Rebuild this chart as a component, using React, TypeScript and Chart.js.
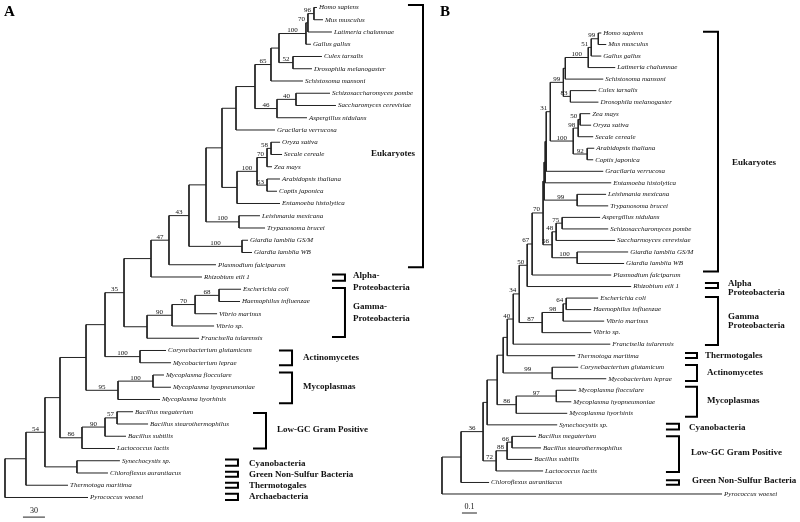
import React, { useEffect, useRef } from "react";
import { Chart, registerables } from "chart.js";
Chart.register(...registerables);

// ---------- DATA ----------
const LEAVES_A = [
  "Homo sapiens", "Mus musculus", "Latimeria chalumnae", "Gallus gallus", "Culex tarsalis",
  "Drosophila melanogaster", "Schistosoma mansoni", "Schizosaccharomyces pombe", "Saccharomyces cerevisiae",
  "Aspergillus nidulans", "Gracilaria verrucosa", "Oryza sativa", "Secale cereale", "Zea mays",
  "Arabidopsis thaliana", "Coptis japonica", "Entamoeba histolytica", "Leishmania mexicana",
  "Trypanosoma brucei", "Giardia lamblia GS/M", "Giardia lamblia WB", "Plasmodium falciparum",
  "Rhizobium etli 1", "Escherichia coli", "Haemophilus influenzae", "Vibrio marinus", "Vibrio sp.",
  "Francisella tularensis", "Corynebacterium glutamicum", "Mycobacterium leprae", "Mycoplasma flocculare",
  "Mycoplasma hyopneumoniae", "Mycoplasma hyorhinis", "Bacillus megaterium", "Bacillus stearothermophilus",
  "Bacillus subtilis", "Lactococcus lactis", "Synechocystis sp.", "Chloroflexus aurantiacus",
  "Thermotoga maritima", "Pyrococcus woesei",
];

const LEAVES_B = [
  "Homo sapiens", "Mus musculus", "Gallus gallus", "Latimeria chalumnae", "Schistosoma mansoni",
  "Culex tarsalis", "Drosophila melanogaster", "Zea mays", "Oryza sativa", "Secale cereale",
  "Arabidopsis thaliana", "Coptis japonica", "Gracilaria verrucosa", "Entamoeba histolytica",
  "Leishmania mexicana", "Trypanosoma brucei", "Aspergillus nidulans", "Schizosaccharomyces pombe",
  "Saccharmoyces cerevisiae", "Giardia lamblia GS/M", "Giardia lamblia WB", "Plasmodium falciparum",
  "Rhizobium etli 1", "Escherichia coli", "Haemophilus influenzae", "Vibrio marinus", "Vibrio sp.",
  "Francisella tularensis", "Thermotoga maritima", "Corynebacterium glutamicum", "Mycobacterium leprae",
  "Mycoplasma flocculare", "Mycoplasma hyopneumoniae", "Mycoplasma hyorhinis", "Synechocystis sp.",
  "Bacillus megaterium", "Bacillus stearothermophilus", "Bacillus subtilis", "Lactococcus lactis",
  "Chloroflexus aurantiacus", "Pyrococcus woesei",
];

// Tree A (Newick, leaf = index into LEAVES_A, internal label = bootstrap)
const A_VERT = "(((0:4.1,1:12.3)96:8.2,2:32.7)70:2.7,3:6.8)100:36.8";
const A_ANIMALS = `((${A_VERT},(4:39.5,5:25.9)52:19.1):10.9,6:43.6)65:21.8`;
const A_FUNGI = "((7:46.4,8:54.5)40:25.9,9:40.9)46:30";
const A_N236 = `((${A_ANIMALS},${A_FUNGI}):25.9,10:53.2):19.1`;
const A_PLANTS = "((((11:12.3,12:15)58:5.5,13:6.8)70:13.6,(14:17.7,15:13.6)53:13.6)100:27.3,16:58.6):20.5";
const A_EUK = `(((${A_N236},${A_PLANTS}):21.8,(17:28.6,18:35.5)100:45):23.2,(19:8.2,20:13.6)100:72.3)43:27.3`;
const A_N151 = `((${A_EUK},21:64.1)47:24.5,22:69.5):36.8`;
const A_GAMMA = "((((23:30,24:28.6)68:32.7,25:30)70:31.4,26:57.3)90:34.1,27:70.9):31.4";
const A_N86 = `(((${A_N151},${A_GAMMA})35:25.9,(28:35.5,29:42.3)100:47.7):25.9,((30:15,31:24.5)100:47.7,32:57.3)95:43.6):35.5`;
const A_LOWGC = "(((33:21.8,34:42.3)57:16.4,35:28.6)90:31.4,36:45)86:30";
const NEWICK_A = `((((${A_N86},${A_LOWGC}):20.5,(37:58.6,38:42.3):43.6)54:25.9,39:57.3):28.6,40:113.2);`;

// Tree B
const B_VERT = "(((0:0.02,1:0.053)99:0.047,2:0.067)51:0.02,3:0.18)100:0.153";
const B_ANIMALS = `((${B_VERT},4:0.253):0.013,(5:0.173,6:0.187)83:0.047)99:0.087`;
const B_PLANTS = "(((7:0.067,8:0.073)50:0.013,9:0.1)98:0.033,(10:0.047,11:0.04)92:0.093)100:0.153";
const B_N544 = `((((${B_ANIMALS},${B_PLANTS})31:0.027,12:0.38):0.007,13:0.44):0.007,(14:0.193,15:0.207)99:0.22):0.007`;
const B_FUNGI = "(((16:0.253,17:0.307)75:0.04,18:0.393)48:0.027,(19:0.34,20:0.313)100:0.167)56:0.06";
const B_N527 = `(((${B_N544},${B_FUNGI})70:0.073,21:0.527)67:0.033,22:0.693)50:0.053`;
const B_GAMMA = "(((23:0.213,24:0.167)64:0.02,25:0.273)98:0.14,26:0.327)87:0.153";
const B_N503 = `((((${B_N527},${B_GAMMA})34:0.04,27:0.647)40:0.04,28:0.453):0.027,(29:0.173,30:0.36)99:0.327):0.04`;
const B_N487 = `((${B_N503},((31:0.133,32:0.1)97:0.267,33:0.34)86:0.127):0.067,34:0.467):0.027`;
const B_LOWGC = "(((35:0.16,36:0.193)66:0.033,37:0.167)88:0.073,38:0.313)72:0.087";
const NEWICK_B = `(((${B_N487},${B_LOWGC})36:0.147,39:0.187):0.127,40:1.867);`;

const SCALE_BAR_A = 30;
const SCALE_BAR_B = 0.1;

const GROUPS_A = [
  ["Eukaryotes"], ["Alpha-", "Proteobacteria"], ["Gamma-", "Proteobacteria"], ["Actinomycetes"],
  ["Mycoplasmas"], ["Low-GC Gram Positive"], ["Cyanobacteria"], ["Green Non-Sulfur Bacteria"],
  ["Thermotogales"], ["Archaebacteria"],
];
const GROUPS_B = [
  ["Eukaryotes"], ["Alpha", "Proteobacteria"], ["Gamma", "Proteobacteria"], ["Thermotogales"],
  ["Actinomycetes"], ["Mycoplasmas"], ["Cyanobacteria"], ["Low-GC Gram Positive"],
  ["Green Non-Sulfur Bacteria"],
];

// ---------- LAYOUT (bracket geometry in axis units: top, bottom, vertical x, arm x, text x, text y, align) ----------
const BRACKETS_A: [number, number, number, number, number, number, string][] = [
  [-0.2, 21.2, 570.0, 549.5, 559.1, 11.96, "right"],
  [21.8, 22.3, 463.6, 445.9, 474.5, 21.92, "left"],
  [22.9, 26.9, 463.6, 445.9, 474.5, 24.45, "left"],
  [28.0, 29.2, 391.4, 373.6, 406.4, 28.61, "left"],
  [29.8, 32.3, 391.4, 373.6, 406.4, 30.98, "left"],
  [33.1, 36.0, 355.9, 338.2, 370.9, 34.49, "left"],
  [36.9, 37.4, 317.7, 300.0, 332.7, 37.2, "left"],
  [37.9, 38.3, 317.7, 300.0, 332.7, 38.16, "left"],
  [38.8, 39.2, 317.7, 300.0, 332.7, 39.06, "left"],
  [39.7, 40.2, 317.7, 300.0, 332.7, 39.96, "left"],
];
const BRACKETS_B: [number, number, number, number, number, number, string][] = [
  [-0.1, 20.7, 1.84, 1.74, 1.933, 11.28, "left"],
  [21.69, 22.13, 1.84, 1.753, 1.907, 21.78, "left"],
  [22.9, 27.07, 1.84, 1.753, 1.907, 24.64, "left"],
  [27.77, 28.2, 1.7, 1.62, 1.753, 28.03, "left"],
  [28.8, 30.2, 1.7, 1.62, 1.767, 29.5, "left"],
  [30.7, 33.3, 1.7, 1.62, 1.767, 31.93, "left"],
  [33.9, 34.4, 1.58, 1.493, 1.647, 34.27, "left"],
  [35.0, 38.1, 1.58, 1.493, 1.66, 36.44, "left"],
  [38.8, 39.2, 1.58, 1.493, 1.667, 38.87, "left"],
];

type TNode = {
  children: TNode[]; len: number; support: string; leaf: number;
  x: number; y: number; parent: TNode | null;
};

function parseNewick(src: string): TNode {
  const s = src.replace(/\s+/g, "");
  let i = 0;
  const node = (): TNode => {
    const n: TNode = { children: [], len: 0, support: "", leaf: -1, x: 0, y: 0, parent: null };
    if (s[i] === "(") {
      i++;
      n.children.push(node());
      while (s[i] === ",") { i++; n.children.push(node()); }
      i++;
    }
    let lab = "";
    while (i < s.length && !":,();".includes(s[i])) lab += s[i++];
    if (n.children.length) n.support = lab; else n.leaf = parseInt(lab, 10);
    if (s[i] === ":") {
      i++;
      let num = "";
      while (i < s.length && !",();".includes(s[i])) num += s[i++];
      n.len = parseFloat(num);
    }
    n.children.forEach((c) => (c.parent = n));
    return n;
  };
  return node();
}

function layoutTree(n: TNode, x0: number) {
  n.x = x0 + n.len;
  if (!n.children.length) { n.y = n.leaf; return; }
  n.children.forEach((c) => layoutTree(c, n.x));
  n.y = (n.children[0].y + n.children[n.children.length - 1].y) / 2;
}

function allNodes(n: TNode, out: TNode[] = []): TNode[] {
  out.push(n);
  n.children.forEach((c) => allNodes(c, out));
  return out;
}

function treeSegments(root: TNode) {
  const pts: { x: number; y: number }[] = [];
  allNodes(root).forEach((n) => {
    if (n.parent) pts.push({ x: n.parent.x, y: n.y }, { x: n.x, y: n.y }, { x: NaN, y: NaN });
    if (n.children.length) {
      pts.push({ x: n.x, y: n.children[0].y }, { x: n.x, y: n.children[n.children.length - 1].y }, { x: NaN, y: NaN });
    }
  });
  return pts;
}

const LEAF_FONT = 'italic 7px "Liberation Serif"';
const BOOT_FONT = '7px "Liberation Serif"';
const GROUP_FONT = 'bold 9px "Liberation Serif"';

export default function App() {
  const ref = useRef<HTMLCanvasElement>(null);
  useEffect(() => {
    const treeA = parseNewick(NEWICK_A);
    layoutTree(treeA, 0);
    const treeB = parseNewick(NEWICK_B);
    layoutTree(treeB, 0);

    const bracketPts = (b: [number, number, number, number, number, number, string]) => [
      { x: b[3], y: b[0] }, { x: b[2], y: b[0] }, { x: b[2], y: b[1] }, { x: b[3], y: b[1] },
    ];
    const lineDs = (data: any[], xid: string, yid: string, width: number, color: string) => ({
      data, xAxisID: xid, yAxisID: yid, borderColor: color, borderWidth: width,
      pointRadius: 0, fill: false, tension: 0, spanGaps: false, borderJoinStyle: "miter" as const,
    });

    const datasets: any[] = [
      lineDs(treeSegments(treeA), "xa", "ya", 1, "#222"),
      lineDs(treeSegments(treeB), "xb", "yb", 1, "#222"),
      ...BRACKETS_A.map((b) => lineDs(bracketPts(b), "xa", "ya", 2, "#000")),
      ...BRACKETS_B.map((b) => lineDs(bracketPts(b), "xb", "yb", 2, "#000")),
      lineDs([{ x: 24.5, y: 41.6 }, { x: 24.5 + SCALE_BAR_A, y: 41.6 }], "xa", "ya", 1, "#222"),
      lineDs([{ x: 0.133, y: 41.65 }, { x: 0.133 + SCALE_BAR_B, y: 41.65 }], "xb", "yb", 1, "#222"),
    ];

    const labelPlugin = {
      id: "treeLabels",
      afterDatasetsDraw(chart: any) {
        const ctx = chart.ctx as CanvasRenderingContext2D;
        const panels = [
          { tree: treeA, leaves: LEAVES_A, groups: GROUPS_A, br: BRACKETS_A, xs: chart.scales.xa, ys: chart.scales.ya, lh: 11.5,
            bar: { x: 24.5, y: 41.6, v: SCALE_BAR_A } },
          { tree: treeB, leaves: LEAVES_B, groups: GROUPS_B, br: BRACKETS_B, xs: chart.scales.xb, ys: chart.scales.yb, lh: 9,
            bar: { x: 0.133, y: 41.65, v: SCALE_BAR_B } },
        ];
        ctx.save();
        ctx.fillStyle = "#111";
        panels.forEach((p) => {
          const nodes = allNodes(p.tree);
          // leaf names
          ctx.font = LEAF_FONT;
          ctx.textAlign = "left";
          ctx.textBaseline = "middle";
          nodes.filter((n) => !n.children.length).forEach((n) => {
            ctx.fillText(p.leaves[n.leaf], p.xs.getPixelForValue(n.x) + 2, p.ys.getPixelForValue(n.y));
          });
          // bootstrap values
          ctx.font = BOOT_FONT;
          ctx.textAlign = "center";
          ctx.textBaseline = "alphabetic";
          nodes.filter((n) => n.children.length && n.support && n.parent).forEach((n) => {
            const w = ctx.measureText(n.support).width;
            const r = p.xs.getPixelForValue(n.x);
            const l = p.xs.getPixelForValue(n.parent!.x);
            const cx = Math.min((l + r) / 2, r - 3 - w / 2);
            ctx.fillText(n.support, cx, p.ys.getPixelForValue(n.y) - 1.5);
          });
          // group names
          ctx.font = GROUP_FONT;
          ctx.textBaseline = "middle";
          p.br.forEach((b, k) => {
            ctx.textAlign = b[6] === "right" ? "right" : "left";
            const tx = p.xs.getPixelForValue(b[4]);
            const ty = p.ys.getPixelForValue(b[5]);
            p.groups[k].forEach((line, j) => ctx.fillText(line, tx, ty + j * p.lh));
          });
          // scale bar label
          ctx.font = '8px "Liberation Serif"';
          ctx.textAlign = "center";
          ctx.textBaseline = "bottom";
          ctx.fillText(String(p.bar.v), p.xs.getPixelForValue(p.bar.x + p.bar.v / 2), p.ys.getPixelForValue(p.bar.y) - 2);
        });
        // panel letters
        ctx.font = 'bold 15px "Liberation Serif"';
        ctx.textAlign = "left";
        ctx.textBaseline = "alphabetic";
        ctx.fillStyle = "#000";
        ctx.fillText("A", 4, 16);
        ctx.fillText("B", 440, 16);
        ctx.restore();
      },
    };

    const chart = new Chart(ref.current!, {
      type: "line",
      data: { datasets },
      options: {
        responsive: false,
        animation: false,
        devicePixelRatio: 1,
        events: [],
        layout: { padding: 0 },
        plugins: { legend: { display: false }, tooltip: { enabled: false } },
        scales: {
          xa: { type: "linear", display: false, bounds: "data", min: -6.818, max: 1084.09 },
          ya: { type: "linear", display: false, bounds: "data", reverse: true, min: -0.6122, max: 42.0 },
          xb: { type: "linear", display: false, bounds: "data", min: -2.9467, max: 2.3867 },
          yb: { type: "linear", display: false, bounds: "data", reverse: true, min: -2.8633, max: 42.43 },
        },
      } as any,
      plugins: [labelPlugin],
    });
    return () => chart.destroy();
  }, []);

  return (
    <div style={{ position: "absolute", left: 0, top: 0, width: 800, height: 522, background: "#fff" }}>
      <canvas ref={ref} width={800} height={522} style={{ display: "block", width: 800, height: 522 }} />
    </div>
  );
}
